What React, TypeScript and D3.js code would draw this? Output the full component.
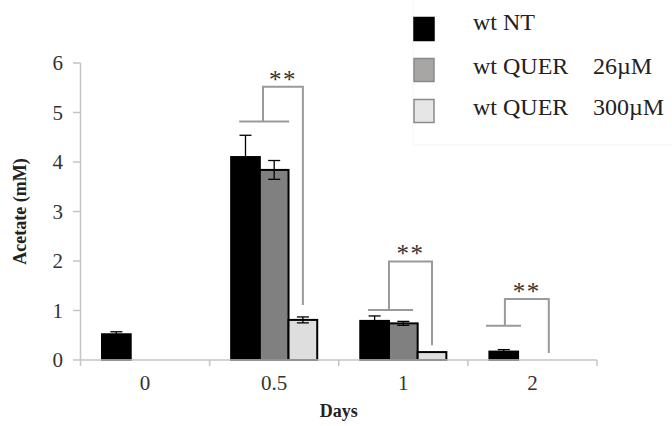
import React from "react";
import * as d3 from "d3";

// Sampling days and treatment series
const days = ["0", "0.5", "1", "2"];
const seriesNames = ["wt NT", "wt QUER", "wt QUER"];
const seriesDoses = ["", "26µM", "300µM"];

// Acetate (mM) per series and day; null = not measured
const ntValues = [0.52, 4.1, 0.79, 0.17];
const ntErrors = [0.05, 0.44, 0.1, 0.04];
const q26Values = [null, 3.84, 0.74, null];
const q26Errors = [null, 0.19, 0.04, null];
const q300Values = [null, 0.81, 0.16, null];
const q300Errors = [null, 0.06, 0, null];

const yTicks = [0, 1, 2, 3, 4, 5, 6];

// Significance brackets: day, reference bar span (in series slots), reference level,
// bracket top level, target slot and target bottom level
const bracketDays = ["0.5", "1", "2"];
const bracketRefSpan = [[0.28, 2.02], [0.27, 1.84], [-0.12, 1.1]];
const bracketRefSlot = [1.11, 1.0, 0.54];
const bracketRefLevel = [4.82, 1.01, 0.69];
const bracketTopLevel = [5.52, 1.99, 1.23];
const bracketTargetSlot = [2.5, 2.5, 2.07];
const bracketTargetLevel = [1.11, 0.3, 0.14];

const W = 672;
const H = 426;
const FONT = "Liberation Serif, Times New Roman, serif";

const fills = ["#000000", "#808080", "#dedede"];
const legendFills = ["#000000", "#a8a5a5", "#e6e6e6"];
const legendStrokes = ["#000000", "#8a8a8a", "#8a8a8a"];

export default function App() {
  const x = d3.scaleBand<string>().domain(days).range([80.5, 597]).padding(0);
  const slot = d3
    .scaleBand<number>()
    .domain([0, 1, 2])
    .range([0, x.bandwidth()])
    .paddingInner(0)
    .paddingOuter(0.75);
  const y = d3.scaleLinear().domain([0, 6]).range([360, 63]);

  const slotW = slot.bandwidth();
  const slotX = (day: string, s: number) =>
    (x(day) as number) + (slot(0) as number) + s * slotW;

  const allValues = [ntValues, q26Values, q300Values];
  const allErrors = [ntErrors, q26Errors, q300Errors];

  const bars: { key: string; x: number; y: number; w: number; h: number; fill: string; v: number; e: number }[] = [];
  allValues.forEach((vals, s) => {
    vals.forEach((v, i) => {
      if (v == null) return;
      const bx = (x(days[i]) as number) + (slot(s) as number);
      bars.push({
        key: `${s}-${i}`,
        x: bx,
        y: y(v),
        w: slotW,
        h: y(0) - y(v),
        fill: fills[s],
        v,
        e: allErrors[s][i] ?? 0,
      });
    });
  });

  const bracketColor = "#9a9a9a";
  const textStyle = { fontFamily: FONT };

  return (
    <div style={{ position: "absolute", left: 0, top: 0 }}>
      <svg width={W} height={H} style={{ display: "block", background: "#fff", fontFamily: FONT }}>
        {/* faint legend frame */}
        <path d="M413,0 V145 H672" fill="none" stroke="#f3f3f3" strokeWidth={1} />

        {/* y axis */}
        <line x1={80.5} x2={80.5} y1={y(6)} y2={y(0)} stroke="#c4c4c4" strokeWidth={1.5} />
        {yTicks.map((t) => (
          <g key={t}>
            <line x1={73} x2={80.5} y1={y(t)} y2={y(t)} stroke="#c4c4c4" strokeWidth={1.5} />
            <text
              x={63}
              y={y(t)}
              dy="0.35em"
              textAnchor="end"
              style={textStyle}
              fontSize={21}
              fill="#333"
            >
              {t}
            </text>
          </g>
        ))}

        {/* bars */}
        {bars.map((b) => (
          <rect
            key={b.key}
            x={b.x}
            y={b.y}
            width={b.w}
            height={b.h}
            fill={b.fill}
            stroke="#000"
            strokeWidth={2}
          />
        ))}

        {/* error bars */}
        {bars
          .filter((b) => b.e > 0)
          .map((b) => {
            const cx = b.x + b.w / 2;
            const top = y(b.v + b.e);
            const bot = y(b.v - b.e);
            return (
              <g key={"e" + b.key} stroke="#000" strokeWidth={1.3}>
                <line x1={cx} x2={cx} y1={top} y2={bot} />
                <line x1={cx - 6} x2={cx + 6} y1={top} y2={top} />
                <line x1={cx - 6} x2={cx + 6} y1={bot} y2={bot} />
              </g>
            );
          })}

        {/* x axis */}
        <line x1={80.5} x2={597} y1={y(0)} y2={y(0)} stroke="#c4c4c4" strokeWidth={1.5} />
        {[...days.map((d) => x(d) as number), 597].map((tx, i) => (
          <line key={i} x1={tx} x2={tx} y1={y(0)} y2={y(0) + 6} stroke="#c4c4c4" strokeWidth={1.5} />
        ))}
        {days.map((d) => (
          <text
            key={d}
            x={(x(d) as number) + x.bandwidth() / 2}
            y={390}
            textAnchor="middle"
            style={textStyle}
            fontSize={21}
            fill="#333"
          >
            {d}
          </text>
        ))}

        {/* significance brackets */}
        {bracketDays.map((d, i) => {
          const x1 = slotX(d, bracketRefSpan[i][0]);
          const x2 = slotX(d, bracketRefSpan[i][1]);
          const xl = slotX(d, bracketRefSlot[i]);
          const xr = slotX(d, bracketTargetSlot[i]);
          const yRef = y(bracketRefLevel[i]);
          const yTop = y(bracketTopLevel[i]);
          const yBot = y(bracketTargetLevel[i]);
          return (
            <g key={"b" + d}>
              <line x1={x1} x2={x2} y1={yRef} y2={yRef} stroke={bracketColor} strokeWidth={2} />
              <path
                d={`M${xl},${yRef} V${yTop} H${xr} V${yBot}`}
                fill="none"
                stroke={bracketColor}
                strokeWidth={2}
              />
              <text
                x={(xl + xr) / 2}
                y={yTop + 1}
                textAnchor="middle"
                style={textStyle}
                fontSize={25}
                letterSpacing={1.5}
                fill="#333"
              >
                **
              </text>
            </g>
          );
        })}

        {/* axis titles */}
        <text
          transform={`translate(26,${(y(0) + y(6)) / 2}) rotate(-90)`}
          textAnchor="middle"
          style={textStyle}
          fontSize={18}
          fontWeight="bold"
          fill="#222"
        >
          Acetate (mM)
        </text>
        <text
          x={(80.5 + 597) / 2}
          y={417}
          textAnchor="middle"
          style={textStyle}
          fontSize={18}
          fontWeight="bold"
          fill="#222"
        >
          Days
        </text>

        {/* legend */}
        {seriesNames.map((name, i) => (
          <g key={"l" + i} transform={`translate(0,${i * 41})`}>
            <rect
              x={414}
              y={17.5}
              width={20}
              height={23}
              fill={legendFills[i]}
              stroke={legendStrokes[i]}
              strokeWidth={1.5}
            />
            <text x={473} y={30 + (i === 0 ? 0 : 3)} style={textStyle} fontSize={24} fill="#222">
              {name}
            </text>
            {seriesDoses[i] && (
              <text x={593} y={33} style={textStyle} fontSize={24} fill="#222">
                {seriesDoses[i]}
              </text>
            )}
          </g>
        ))}
      </svg>
    </div>
  );
}
